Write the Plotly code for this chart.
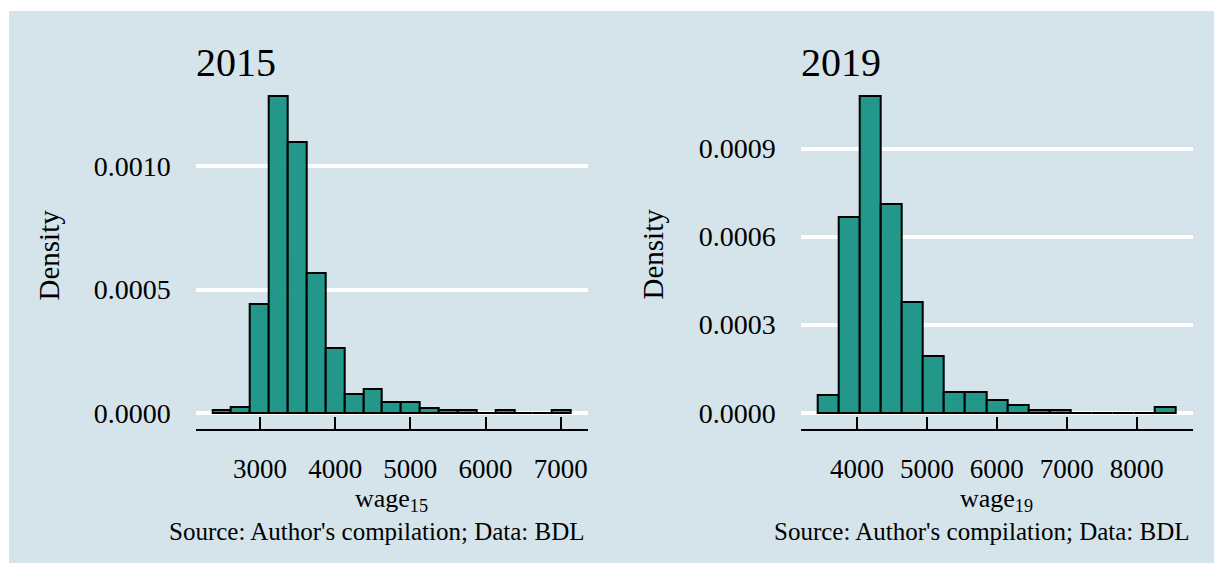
import plotly.graph_objects as go

# Histogram bins (centres) and densities for each year
bins_2015 = [2491, 2742, 2993, 3244, 3495, 3746, 3997, 4248, 4499, 4750,
             5001, 5252, 5503, 5754, 6005, 6256, 6507, 6758, 7009]
dens_2015 = [1.0e-5, 2.2e-5, 4.42e-4, 1.287e-3, 1.097e-3, 5.68e-4, 2.64e-4, 7.4e-5,
             9.5e-5, 4.3e-5, 4.3e-5, 2.0e-5, 1.0e-5, 1.0e-5, 0.0, 1.0e-5, 0.0, 0.0, 1.0e-5]
binwidth_2015 = 251

bins_2019 = [3589, 3890, 4191, 4492, 4794, 5095, 5396, 5697, 5998, 6299,
             6600, 6902, 7203, 7504, 7805, 8106, 8407]
dens_2019 = [6.1e-5, 6.68e-4, 1.080e-3, 7.11e-4, 3.78e-4, 1.93e-4, 7.0e-5, 7.0e-5,
             4.3e-5, 2.6e-5, 9e-6, 9e-6, 0.0, 0.0, 0.0, 0.0, 1.9e-5]
binwidth_2019 = 301

xticks_2015 = [3000, 4000, 5000, 6000, 7000]
yticks_2015 = [0.0, 0.0005, 0.0010]
xticks_2019 = [4000, 5000, 6000, 7000, 8000]
yticks_2019 = [0.0, 0.0003, 0.0006, 0.0009]

titles = ["2015", "2019"]
xlabels = ["wage<sub>15</sub>", "wage<sub>19</sub>"]
caption = "Source: Author's compilation; Data: BDL"

W, H = 1214, 563
BG = "#d5e4eb"
FILL = "rgba(24,146,133,0.95)"
FONT = "Liberation Serif"


def px(x):
    return x / W


def py(y):
    return 1 - y / H


fig = go.Figure()
fig.add_trace(go.Bar(x=bins_2015, y=dens_2015, width=binwidth_2015,
                     marker=dict(color=FILL, line=dict(color="black", width=2)),
                     xaxis="x", yaxis="y", showlegend=False))
fig.add_trace(go.Bar(x=bins_2019, y=dens_2019, width=binwidth_2019,
                     marker=dict(color=FILL, line=dict(color="black", width=2)),
                     xaxis="x2", yaxis="y2", showlegend=False))

ydom = [py(429), py(80)]
xaxis_common = dict(showgrid=False, zeroline=False, showline=True, linecolor="black",
                    linewidth=2, ticks="inside", ticklen=12, tickwidth=2, tickcolor="black",
                    ticklabelstandoff=15,
                    tickfont=dict(family=FONT, size=27, color="black"))
yaxis_common = dict(showgrid=True, gridcolor="white", gridwidth=4, zeroline=True,
                    zerolinecolor="white", zerolinewidth=4, showline=False, ticks="",
                    ticklabelstandoff=24, tickformat=".4f",
                    tickfont=dict(family=FONT, size=28, color="black"))

fig.update_layout(
    width=W, height=H,
    margin=dict(l=0, r=0, t=0, b=0),
    paper_bgcolor=BG, plot_bgcolor=BG,
    bargap=0,
    xaxis=dict(domain=[px(195.7), px(588)], range=[2145, 7363],
               tickvals=xticks_2015, ticktext=[str(v) for v in xticks_2015],
               anchor="y", **xaxis_common),
    yaxis=dict(domain=ydom, range=[-6.6e-5, 1.350e-3], tickvals=yticks_2015,
               anchor="x", **yaxis_common),
    xaxis2=dict(domain=[px(800.7), px(1193.3)], range=[3195, 8809],
                tickvals=xticks_2019, ticktext=[str(v) for v in xticks_2019],
                anchor="y2", **xaxis_common),
    yaxis2=dict(domain=ydom, range=[-5.56e-5, 1.134e-3], tickvals=yticks_2019,
                anchor="x2", **yaxis_common),
)

# White border along the top and left edges
fig.add_shape(type="rect", xref="paper", yref="paper", x0=0, x1=px(9), y0=0, y1=1,
              fillcolor="white", line_width=0, layer="above")
fig.add_shape(type="rect", xref="paper", yref="paper", x0=0, x1=1, y0=py(11), y1=1,
              fillcolor="white", line_width=0, layer="above")

panels = [
    dict(left=195.7, right=588, dens_x=48),
    dict(left=800.7, right=1193.3, dens_x=652),
]
for i, p in enumerate(panels):
    fig.add_annotation(text=titles[i], x=px(p["left"] - 2), y=py(63), xref="paper", yref="paper",
                       xanchor="left", yanchor="middle", showarrow=False,
                       font=dict(family=FONT, size=40, color="black"))
    fig.add_annotation(text="Density", x=px(p["dens_x"]), y=py(254.5), xref="paper",
                       yref="paper", xanchor="center", yanchor="middle", textangle=-90,
                       showarrow=False, font=dict(family=FONT, size=29, color="black"))
    fig.add_annotation(text=xlabels[i], x=px((p["left"] + p["right"]) / 2), y=py(500),
                       xref="paper", yref="paper", xanchor="center", yanchor="middle",
                       showarrow=False, font=dict(family=FONT, size=26, color="black"))
    fig.add_annotation(text=caption, x=px(p["right"] - 1), y=py(531), xref="paper",
                       yref="paper", xanchor="right", yanchor="middle", showarrow=False,
                       font=dict(family=FONT, size=25, color="black"))

fig.write_html("out.html")
